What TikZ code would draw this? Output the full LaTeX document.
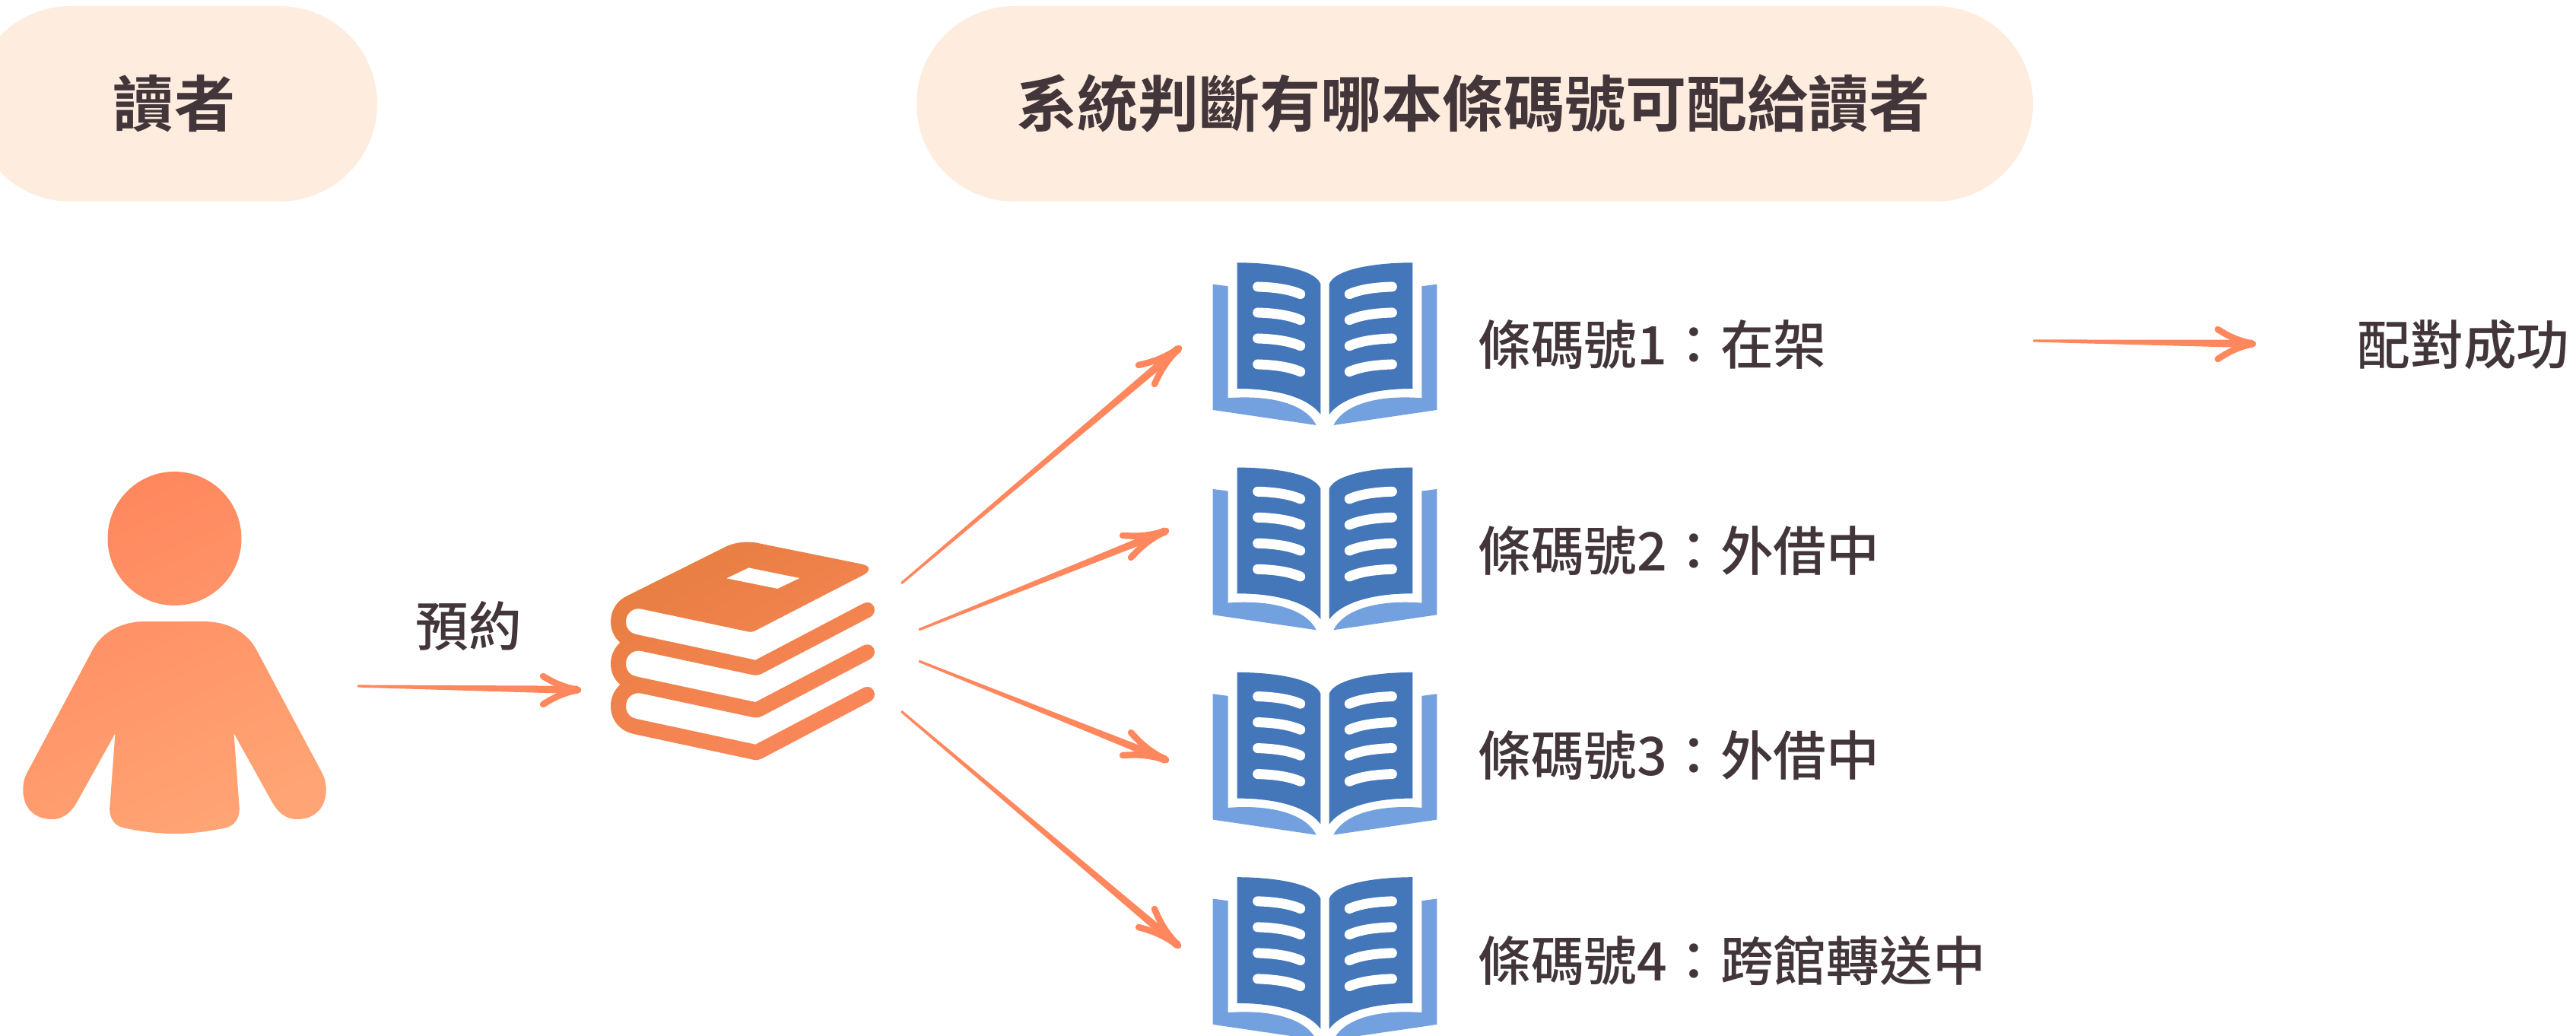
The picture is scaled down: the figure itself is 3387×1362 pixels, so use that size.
\documentclass[tikz,border=0pt]{standalone}
\usepackage{fontspec}
\usetikzlibrary{calc}
\newfontfamily\cjk[BoldFont={Noto Sans CJK TC Bold}]{Noto Sans CJK TC Medium}
\definecolor{pillc}{HTML}{FEEDDF}
\definecolor{inkc}{HTML}{43363A}
\definecolor{arrowc}{HTML}{FF875E}
\definecolor{bookdark}{HTML}{4477BA}
\definecolor{booklight}{HTML}{73A1E0}
\definecolor{stacka}{HTML}{E77E41}
\definecolor{stackb}{HTML}{FB875A}
\definecolor{persona}{HTML}{FF875E}
\definecolor{personb}{HTML}{FFA474}
\tikzset{
  pill/.style={fill=pillc,rounded corners=2.57cm},
  headtext/.style={inner sep=0pt,text=inkc,font=\cjk\bfseries\fontsize{45.6}{55}\selectfont},
  labeltext/.style={inner sep=0pt,text=inkc,font=\cjk\fontsize{39.7}{48}\selectfont},
  barb/.style={draw=arrowc,line width=4.8pt,line cap=round},
}
\newcommand{\taperarrow}[4]{%
  \fill[arrowc,rounded corners=0.5pt] ($(#1)!0.9pt!90:(#2)$) -- ($(#2)!3pt!-90:(#1)$) -- ($(#2)!3pt!90:(#1)$) -- ($(#1)!0.9pt!-90:(#2)$) -- cycle;
  \draw[barb] (#2) to[bend left=10] (#3);
  \draw[barb] (#2) to[bend right=10] (#4);
}
\newcommand{\halfbook}{%
  \fill[booklight] (-442,85) -- (-382,93) -- (-382,534) .. controls (-230,522) and (-80,550) .. (-34,641) -- (-442,581) -- cycle;
  \fill[bookdark] (-346,0) .. controls (-200,0) and (-40,25) .. (-17,84) -- (-17,599) .. controls (-60,540) and (-170,497) .. (-346,497) -- cycle;
  \foreach \d in {0,102,204,306}{
    \draw[white,line width=7.4pt,line cap=round] (-265,{95+\d}) .. controls (-200,97+\d) and (-140,105+\d) .. (-97,{124+\d});
  }
}
\newcommand{\openbook}[1]{%
  \begin{scope}[shift={(1742,#1)},scale=1/3]\halfbook\end{scope}
  \begin{scope}[shift={(1742,#1)},xscale=-1/3,yscale=1/3]\halfbook\end{scope}
}
\begin{document}
\begin{tikzpicture}[x=0.02cm,y=-0.02cm]
\useasboundingbox (0,0) rectangle (3387,1362);
\clip (0,0) rectangle (3387,1362);
% header pills
\fill[pill] (-36,8) rectangle (496,265);
\fill[pill] (1205,8) rectangle (2673,265);
\node[headtext] (h1) at (229,136) {讀者};
\node[headtext] (h2) at (1937,136) {系統判斷有哪本條碼號可配給讀者};
% person
\begin{scope}[xshift=-1.5*0.02cm]
\shade[top color=persona,bottom color=personb,shading angle=25]
  (231,708) circle [radius=88]
  (231,817) -- (269,817) .. controls (300,817) and (325,830) .. (338,853)
  -- (426,1018) .. controls (436,1040) and (430,1077) .. (392,1077)
  .. controls (375,1077) and (365,1065) .. (359,1054)
  -- (309,964) -- (316,1059) .. controls (318,1075) and (310,1087) .. (295,1089)
  .. controls (270,1094) and (250,1096) .. (231,1096)
  .. controls (212,1096) and (192,1094) .. (167,1089)
  .. controls (152,1087) and (144,1075) .. (146,1059)
  -- (153,964) -- (103,1054) .. controls (97,1065) and (87,1077) .. (70,1077)
  .. controls (32,1077) and (26,1040) .. (36,1018)
  -- (124,853) .. controls (137,830) and (162,817) .. (193,817) -- cycle;
\end{scope}
% book stack
\begin{scope}[shift={(780,680)},scale=1/3]
\shade[even odd rule,top color=stacka,bottom color=stackb,shading angle=30]
  (130,312) -- (525,115) .. controls (565,97) and (605,95) .. (640,100)
  -- (1060,185) .. controls (1095,192) and (1095,212) .. (1065,228)
  -- (640,447) .. controls (630,453) and (618,453) .. (610,451)
  -- (190,362) .. controls (155,355) and (129,380) .. (129,412)
  .. controls (129,440) and (148,458) .. (170,462)
  -- (640,563) -- (1065,340) .. controls (1090,328) and (1110,345) .. (1110,365)
  .. controls (1110,380) and (1100,390) .. (1090,395)
  -- (665,617) .. controls (655,622) and (645,625) .. (630,622)
  -- (190,528) .. controls (155,521) and (129,546) .. (129,578)
  .. controls (129,606) and (148,624) .. (170,628)
  -- (640,729) -- (1065,506) .. controls (1090,494) and (1110,511) .. (1110,531)
  .. controls (1110,546) and (1100,556) .. (1090,561)
  -- (665,785) .. controls (655,790) and (645,792) .. (630,789)
  -- (190,695) .. controls (155,688) and (129,713) .. (129,745)
  .. controls (129,773) and (148,791) .. (170,795)
  -- (640,896) -- (1065,673) .. controls (1090,661) and (1110,678) .. (1110,698)
  .. controls (1110,713) and (1100,723) .. (1090,728)
  -- (665,952) .. controls (655,957) and (645,959) .. (630,956)
  -- (160,855) .. controls (105,843) and (69,800) .. (69,745)
  .. controls (69,710) and (83,682) .. (106,660)
  .. controls (83,640) and (69,612) .. (69,578)
  .. controls (69,544) and (83,516) .. (106,494)
  .. controls (83,474) and (69,446) .. (69,412)
  .. controls (69,368) and (92,331) .. (130,312) -- cycle
  (613,199) -- (815,240) -- (727,282) -- (525,241) -- cycle;
\end{scope}
% open books
\openbook{345.3}
\openbook{614.6}
\openbook{883.9}
\openbook{1153.2}
% labels
\node[labeltext] (reserve) at (616,823) {預約};
\node[labeltext,anchor=west] (b1) at (1943,453) {條碼號1：在架};
\node[labeltext,anchor=west] (b2) at (1943,724) {條碼號2：外借中};
\node[labeltext,anchor=west] (b3) at (1943,993) {條碼號3：外借中};
\node[labeltext,anchor=west] (b4) at (1943,1263) {條碼號4：跨館轉送中};
\node[labeltext] (ok) at (3239,453) {配對成功};
% connector end points
\coordinate (personout) at (470,902);
\coordinate (stackin) at (760,907);
\coordinate (ph1) at (714,889);
\coordinate (ph2) at (714,926);
\coordinate (s1) at (1185,767);
\coordinate (t1) at (1550,458);
\coordinate (a1) at (1497,480);
\coordinate (c1) at (1518,505);
\coordinate (s2) at (1208,828);
\coordinate (t2) at (1533,698);
\coordinate (a2) at (1476,704);
\coordinate (c2) at (1487,733);
\coordinate (s3) at (1208,869);
\coordinate (t3) at (1533,999);
\coordinate (a3) at (1487,963);
\coordinate (c3) at (1476,993);
\coordinate (s4) at (1185,935);
\coordinate (t4) at (1549,1243);
\coordinate (a4) at (1518,1195);
\coordinate (c4) at (1497,1219);
\coordinate (s5) at (2673,448);
\coordinate (t5) at (2962,452);
\coordinate (a5) at (2916,433);
\coordinate (c5) at (2916,472);
\taperarrow{personout}{stackin}{ph1}{ph2}
\taperarrow{s1}{t1}{a1}{c1}
\taperarrow{s2}{t2}{a2}{c2}
\taperarrow{s3}{t3}{a3}{c3}
\taperarrow{s4}{t4}{a4}{c4}
\taperarrow{s5}{t5}{a5}{c5}
\end{tikzpicture}
\end{document}
